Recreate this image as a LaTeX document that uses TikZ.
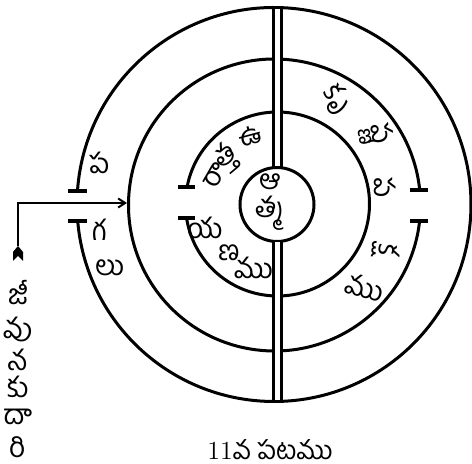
\documentclass[tikz,border=0pt]{standalone}
\usepackage{fontspec}
\usetikzlibrary{arrows.meta}
\newfontfamily\tel[Script=Telugu]{Hind Guntur}
\begin{document}
\begin{tikzpicture}[x=0.5pt,y=-0.5pt,
  ring/.style={line width=1.5pt},
  barline/.style={line width=1.3pt},
  gapmark/.style={line width=2pt},
  lbl/.style={font=\tel\fontsize{14}{14}\selectfont, inner sep=0pt},
  captext/.style={font=\fontsize{13}{13}\selectfont, inner sep=0pt, anchor=base},
  ]
\useasboundingbox (0,0) rectangle (472,464);
\coordinate (Co) at (274,204.5);
\coordinate (Cm) at (274.5,205);
\coordinate (Ct) at (277.5,204);
\coordinate (Ci) at (277,204.5);
% outer ring, gap on the left
\draw[ring] (Co) ++(183.93:197) arc[start angle=183.93, end angle=535.2, radius=197];
\draw[gapmark] (68,191) -- (87,191);
\draw[gapmark] (68,221) -- (87,221);
% middle ring, gap on the right
\draw[ring] (Cm) ++(6.29:146) arc[start angle=6.29, end angle=354.1, radius=146];
\draw[gapmark] (410,190) -- (428,190);
\draw[gapmark] (410,221) -- (428,221);
% third ring, gap on the left
\draw[ring] (Ct) ++(190.65:92) arc[start angle=190.65, end angle=530.93, radius=92];
\draw[gapmark] (178,187) -- (195,187);
\draw[gapmark] (178,218.5) -- (195,218.5);
% inner circle
\draw[ring] (Ci) circle[radius=37];
% double bar
\fill[white] (274.3,9) rectangle (280.7,166.5);
\fill[white] (274.3,242.5) rectangle (280.7,400);
\draw[barline] (273.5,7.5) -- (273.5,168);
\draw[barline] (281.5,7.5) -- (281.5,168.5);
\draw[barline] (273.5,241) -- (273.5,401.5);
\draw[barline] (281.5,240.5) -- (281.5,401.5);
% arrow of the way
\coordinate (tail) at (18,246);
\coordinate (bend) at (18,203);
\coordinate (tip) at (127,203);
\draw[line width=1pt, -{Straight Barb[length=3.5pt,width=4.5pt]}] (tail) -- (bend) -- (tip);
\fill (18,246) -- (23,252) -- (23,261) -- (18,256) -- (13,261) -- (13,252) -- cycle;
% outer ring labels
\node[lbl] (o1) at (100,163) {ప};
\node[lbl] (o2) at (100,230) {గ};
\node[lbl] (o3) at (110,268) {లు};
% middle ring labels
\node[lbl, rotate=-55] (m1) at (337,100) {కృ};
\node[lbl, rotate=-80] (m2) at (376,135) {ష్ణ};
\node[lbl, rotate=-90] (m3) at (385,188) {ప};
\node[lbl, rotate=-95] (m4) at (386,250) {క్ష};
\node[lbl, rotate=-15] (m5) at (365,287) {ము};
% third ring labels
\node[lbl, rotate=15] (t1) at (250,136) {ఉ};
\node[lbl, rotate=40] (t2) at (227,158) {త్త};
\node[lbl, rotate=60] (t3) at (215,176) {రా};
\node[lbl] (t4) at (205,228) {య};
\node[lbl] (t5) at (229,253) {ణ};
\node[lbl] (t6) at (254,268) {ము};
% inner circle labels
\node[lbl] (i1) at (270,182) {ఆ};
\node[lbl] (i2) at (270,213) {త్మ};
% vertical label
\node[lbl] (v1) at (18,293) {జీ};
\node[lbl] (v2) at (18,330) {వు};
\node[lbl] (v3) at (18,360) {న};
\node[lbl] (v4) at (18,387) {కు};
\node[lbl] (v5) at (18,417) {దా};
\node[lbl] (v6) at (18,447) {రి};
% caption
\node[captext] (caption) at (270,460) {11{\tel వ పటము}};
\end{tikzpicture}
\end{document}
